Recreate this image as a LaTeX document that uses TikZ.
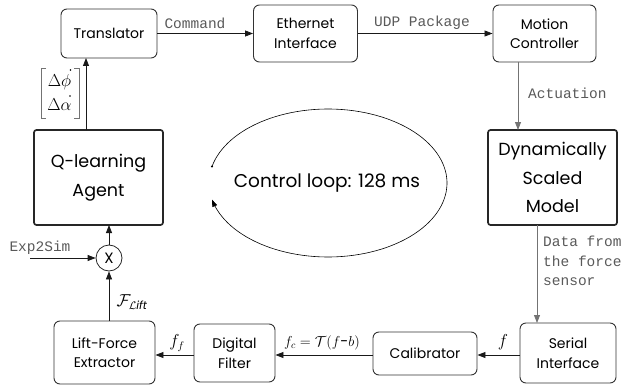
\documentclass[tikz,border=0pt]{standalone}
\usepackage{amsmath}
\usepackage{fontspec}
\setmainfont{Poppins}
\setmonofont{Liberation Mono}
\usetikzlibrary{arrows.meta}

\begin{document}
\begin{tikzpicture}[x=1pt,y=-1pt,
  box/.style={draw=black!80, line width=0.9pt, rounded corners=6pt, align=center,
    inner sep=0pt, font=\fontsize{14}{19.5}\selectfont},
  bigbox/.style={draw=black!85, line width=1.7pt, rounded corners=2.5pt, align=center,
    inner sep=0pt, font=\fontsize{17.5}{28.5}\selectfont},
  arr/.style={draw=black!90, line width=0.8pt, -{Triangle[length=8pt,width=6pt]}},
  garr/.style={arr, draw=black!55},
  mono/.style={font=\ttfamily\fontsize{14.5}{19.5}\selectfont, text=black!65, inner sep=0pt},
  mathlbl/.style={inner sep=0pt, font=\fontsize{16}{18}\selectfont},
  vecentry/.style={inner sep=0pt, font=\fontsize{17}{20}\selectfont},
  bracket/.style={draw=black!55, line width=0.8pt},
  derivdot/.style={fill=black}
]
\useasboundingbox (0,0) rectangle (623,385);

% processing blocks
\node[box, minimum width=96pt, minimum height=49pt] (tr) at (109,33.5) {Translator};
\node[box, minimum width=104pt, minimum height=57pt] (eth) at (305.5,33.5) {Ethernet\\Interface};
\node[box, minimum width=103pt, minimum height=57pt] (mc) at (544.5,33.5) {Motion\\Controller};
\node[bigbox, minimum width=129pt, minimum height=95pt] (agent) at (98.5,177.5) {Q-learning\\Agent};
\node[bigbox, minimum width=129pt, minimum height=95pt] (dsm) at (552.5,177.5) {Dynamically\\Scaled\\Model};
\node[box, minimum width=96pt, minimum height=60pt] (ser) at (568,353) {Serial\\Interface};
\node[box, minimum width=104pt, minimum height=43pt] (cal) at (425,353.5) {Calibrator};
\node[box, minimum width=81pt, minimum height=58pt] (filt) at (234.5,353) {Digital\\Filter};
\node[box, minimum width=101pt, minimum height=63pt] (lift) at (104.5,352.5) {Lift-Force\\Extractor};

% multiplier
\node[circle, draw=black!85, line width=0.8pt, minimum size=26pt, inner sep=0pt,
  font=\fontsize{15}{15}\selectfont] (mul) at (109,258) {X};
\coordinate (exin) at (30,258);

% anchor points for off-centre connectors
\coordinate (agtop) at (86,130);
\coordinate (trbot) at (86,58);
\coordinate (mcbot) at (518,62);
\coordinate (dsmtop) at (518,130);
\coordinate (dsmbot) at (537,225);
\coordinate (sertop) at (537,323);
\coordinate (liftop) at (109,321);
\coordinate (agbot) at (109,225);

% connectors
\draw[arr] (tr.east) -- (eth.west);
\draw[arr] (eth.east) -- (mc.west);
\draw[garr] (mcbot) -- (dsmtop);
\draw[garr] (dsmbot) -- (sertop);
\draw[arr] (ser.west |- 0,355) -- (cal.east |- 0,355);
\draw[arr] (cal.west |- 0,355) -- (filt.east |- 0,355);
\draw[arr] (filt.west |- 0,355) -- (lift.east |- 0,355);
\draw[arr] (liftop) -- (mul.south);
\draw[arr] (mul.north) -- (agbot);
\draw[arr] (exin) -- (mul.west);
\draw[arr] (agtop) -- (trbot);

% connector labels
\node[mono] (lcmd) at (195,23) {Command};
\node[mono] (ludp) at (422,23) {UDP Package};
\node[mono, anchor=west] (lact) at (528,93) {Actuation};
\node[mono, anchor=north west, align=left] (ldata) at (543,236) {Data from\\the force\\sensor};
\node[mono] (lexp) at (40,248) {Exp2Sim};

% action vector [d(phi)/dt ; d(alpha)/dt]
\draw[bracket] (46,68) -- (41,68) -- (41,118) -- (46,118);
\draw[bracket] (74,68) -- (79,68) -- (79,118) -- (74,118);
\node[vecentry] (vphi) at (59.5,82) {$\Delta\phi$};
\node[vecentry] (valpha) at (59.5,105) {$\Delta\alpha$};
\fill[derivdot] (70.5,70) circle (0.9pt);
\fill[derivdot] (70,96) circle (0.9pt);

\node[mathlbl] (lflift) at (132,302) {$\mathcal{F}_{\mathcal{L}\mathit{ift}}$};
\node[mathlbl] (lff) at (177,343) {$f_f$};
\node[mathlbl, font=\fontsize{14.5}{17}\selectfont] (lfc) at (322,343) {$f_c = \mathcal{T}(f\text{-}b)$};
\node[mathlbl] (lf) at (503,342) {$f$};

% control loop
\draw[line width=0.6pt, -{Triangle[length=7pt,width=5pt]}]
  plot[domain=193:527, samples=120] ({328+119*cos(\x)}, {183+74*sin(\x)});
\fill (212,166.5) circle (1.1pt);
\node[font=\fontsize{18.5}{22}\selectfont] (loop) at (327,183) {Control loop: 128 ms};
\end{tikzpicture}
\end{document}
